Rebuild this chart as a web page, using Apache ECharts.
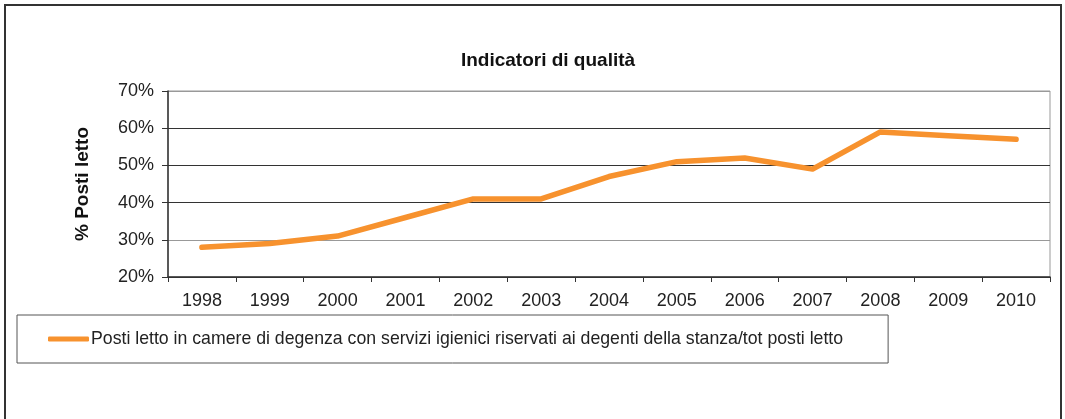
<!DOCTYPE html>
<html>
<head>
<meta charset="utf-8">
<script src="https://cdn.jsdelivr.net/npm/echarts@6/dist/echarts.min.js"></script>
<style>
  html, body { margin: 0; padding: 0; background: #fff; }
  #chart { width: 1065px; height: 419px; }
</style>
</head>
<body>
<div id="chart"></div>
<script>
const years = ['1998', '1999', '2000', '2001', '2002', '2003', '2004', '2005', '2006', '2007', '2008', '2009', '2010'];
const postiLetto = [28, 29, 31, 36, 41, 41, 47, 51, 52, 49, 59, 58, 57];
const seriesName = 'Posti letto in camere di degenza con servizi igienici riservati ai degenti della stanza/tot posti letto';

const font = '"Liberation Sans", Arial, sans-serif';
const chart = echarts.init(document.getElementById('chart'));

chart.setOption({
  animation: false,
  textStyle: { fontFamily: font },
  title: {
    text: 'Indicatori di qualità',
    left: 543,
    textAlign: 'center',
    top: 46,
    textStyle: { fontSize: 19, fontWeight: 'bold', color: '#111', fontFamily: font }
  },
  graphic: [
    {
      type: 'rect',
      shape: { x: 5, y: 5, width: 1056, height: 500 },
      style: { fill: 'none', stroke: '#333', lineWidth: 2 },
      silent: true
    }
  ],
  grid: {
    left: 168,
    right: 15,
    top: 91,
    bottom: 142,
    show: true,
    borderColor: '#999',
    borderWidth: 1
  },
  legend: {
    left: 17,
    top: 315,
    orient: 'horizontal',
    borderColor: '#555',
    borderWidth: 1,
    padding: [15, 45, 15, 31],
    itemWidth: 41,
    itemHeight: 5,
    textStyle: { fontSize: 17.7, color: '#222', fontFamily: font, padding: [0, 0, 0, -3] },
    data: [{ name: seriesName, icon: 'roundRect', itemStyle: { color: '#F7922E' } }]
  },
  xAxis: {
    type: 'category',
    data: years,
    boundaryGap: true,
    axisLine: { lineStyle: { color: '#333', width: 1.5 } },
    axisTick: { show: true, length: 5, lineStyle: { color: '#333' } },
    axisLabel: { fontSize: 18, color: '#222', margin: 15, fontFamily: font },
    splitLine: { show: false }
  },
  yAxis: {
    type: 'value',
    min: 20,
    max: 70,
    interval: 10,
    name: '% Posti letto',
    nameLocation: 'middle',
    nameGap: 76,
    nameRotate: 90,
    nameTextStyle: { fontSize: 19, fontWeight: 'bold', color: '#111', fontFamily: font },
    axisLine: { show: true, lineStyle: { color: '#333', width: 1.5 } },
    axisTick: { show: true, length: 6, lineStyle: { color: '#333' } },
    axisLabel: {
      fontSize: 18,
      color: '#222',
      margin: 14,
      fontFamily: font,
      formatter: v => v + '%'
    },
    splitLine: {
      show: true,
      lineStyle: { color: ['#333', '#999', '#333', '#333', '#333', '#999'], width: 1 }
    }
  },
  series: [
    {
      name: seriesName,
      type: 'line',
      data: postiLetto,
      showSymbol: false,
      symbol: 'none',
      lineStyle: { color: '#F7922E', width: 5.5, cap: 'round', join: 'round' },
      itemStyle: { color: '#F7922E' }
    }
  ]
});
</script>
</body>
</html>
